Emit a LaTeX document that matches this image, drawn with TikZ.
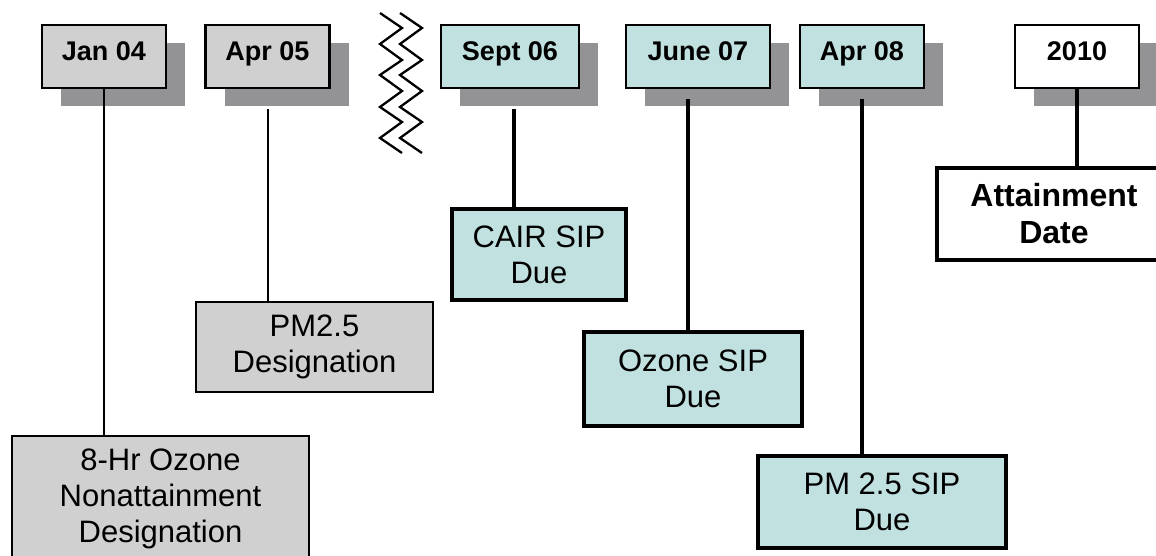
\documentclass[tikz,border=0pt]{standalone}
\usepackage{fontspec}
\setmainfont{Liberation Sans}
\usetikzlibrary{shadows,calc}
\definecolor{boxgray}{RGB}{208,208,208}
\definecolor{shadegray}{RGB}{147,147,149}
\definecolor{sipblue}{RGB}{193,225,224}
\begin{document}
\begin{tikzpicture}[x=1pt,y=-1pt,
  datebox/.style={draw=black, line width=2.3pt, minimum width=124pt, minimum height=63pt,
    inner sep=0pt, text height=19pt, text depth=10pt,
    font=\fontsize{27}{32}\selectfont\bfseries,
    drop shadow={shadow xshift=19pt, shadow yshift=-18pt, fill=shadegray, opacity=1}},
  eventbox/.style={draw=black, inner sep=0pt, align=center,
    font=\fontsize{31}{36}\selectfont},
  thinline/.style={draw=black, line width=2pt},
  thickline/.style={draw=black, line width=4pt},
  zig/.style={draw=black, line width=2.3pt}]
\path[use as bounding box, fill=white] (0,0) rectangle (1156,556);
\clip (0,0) rectangle (1156,556);

% date boxes
\node[datebox, fill=boxgray] (jan) at (104,56.5) {Jan 04};
\node[datebox, fill=boxgray] (apr5) at (267.5,56.5) {Apr 05};
\node[datebox, fill=sipblue, minimum width=138pt] (sep6) at (510,56.5) {Sept 06};
\node[datebox, fill=sipblue, minimum width=144pt] (jun7) at (698,56.5) {June 07};
\node[datebox, fill=sipblue] (apr8) at (862,56.5) {Apr 08};
\node[datebox, fill=white] (y2010) at (1077,56.5) {2010};

% event boxes
\node[eventbox, fill=boxgray, line width=2pt, minimum width=297pt, minimum height=125pt] (oz8) at (160.5,498.5) {8-Hr Ozone\\Nonattainment\\Designation};
\node[eventbox, fill=boxgray, line width=2pt, minimum width=237pt, minimum height=90pt] (pmdes) at (314.5,347) {PM2.5\\Designation};
\node[eventbox, fill=sipblue, line width=3.5pt, minimum width=174pt, minimum height=91pt] (cair) at (539,254.5) {CAIR SIP\\Due};
\node[eventbox, fill=sipblue, line width=3.5pt, minimum width=218pt, minimum height=94pt] (ozsip) at (693,379) {Ozone SIP\\Due};
\node[eventbox, fill=sipblue, line width=4pt, minimum width=248pt, minimum height=92pt] (pmsip) at (882,502) {PM 2.5 SIP\\Due};
\node[eventbox, fill=white, line width=4pt, minimum width=234pt, minimum height=92pt, font=\fontsize{32}{37}\selectfont\bfseries] (attain) at (1054,214) {Attainment\\Date};

% connector start points
\coordinate (sepx) at ($(sep6.south)+(4,0)$);
\coordinate (junx) at ($(jun7.south)+(-10,0)$);

% connectors
\draw[thinline] (jan.south) -- (jan.south |- oz8.north);
\draw[thinline, shorten <=20pt] (apr5.south) -- (apr5.south |- pmdes.north);
\draw[thickline, shorten <=20pt] (sepx) -- (sepx |- cair.north);
\draw[thickline, shorten <=10pt] (junx) -- (junx |- ozsip.north);
\draw[thickline, shorten <=10pt] (apr8.south) -- (apr8.south |- pmsip.north);
\draw[thickline] (y2010.south) -- (y2010.south |- attain.north);

% break marks
\draw[zig] (380,13) -- (402,28) -- (380,44) -- (402,60) -- (380,75) -- (402,91) -- (380,107) -- (402,122) -- (380,138) -- (402,153);
\draw[zig] (400,13) -- (422,28) -- (400,44) -- (422,60) -- (400,75) -- (422,91) -- (400,107) -- (422,122) -- (400,138) -- (422,153);
\end{tikzpicture}
\end{document}
